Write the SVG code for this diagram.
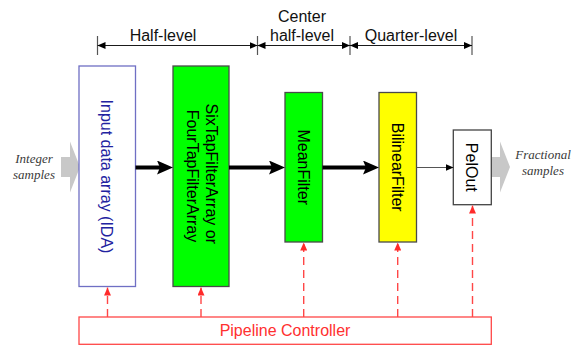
<svg xmlns="http://www.w3.org/2000/svg" width="579" height="347" viewBox="0 0 579 347">
  <style>
    .sans { font-family: "Liberation Sans", Arial, sans-serif; font-size: 16px; }
    .serif-it { font-family: "Liberation Serif", "Times New Roman", serif; font-size: 13px; font-style: italic; fill: #3a3a3a; }
    .lbl { fill: #111; text-anchor: middle; }
    .dim { stroke: #1a1a1a; stroke-width: 1.2; fill: none; }
    .tick { stroke: #555; stroke-width: 1.2; }
    .box { stroke-width: 1.3; }
    .flow-thick { stroke: #000; stroke-width: 4; fill: none; }
    .flow-thin { stroke: #555; stroke-width: 1.2; fill: none; }
    .ctrl { stroke: #ff4747; stroke-width: 1.4; stroke-dasharray: 8 5; fill: none; }
    .block-arrow { fill: #c8c8c8; }
  </style>
  <defs>
    <marker id="dimHead" viewBox="0 0 8 7" refX="8" refY="3.5" markerWidth="8" markerHeight="7" markerUnits="userSpaceOnUse" orient="auto-start-reverse">
      <path d="M0,0 L8,3.5 L0,7 z" fill="#000"/>
    </marker>
    <marker id="bigHead" viewBox="0 0 16 14" refX="3" refY="7" markerWidth="16" markerHeight="14" markerUnits="userSpaceOnUse" orient="auto">
      <path d="M0,0 L16,7 L0,14 L3,7 z" fill="#000"/>
    </marker>
    <marker id="smallHead" viewBox="0 0 8 7" refX="7.5" refY="3.5" markerWidth="8" markerHeight="7" markerUnits="userSpaceOnUse" orient="auto">
      <path d="M0,0 L8,3.5 L0,7 z" fill="#000"/>
    </marker>
    <marker id="redHead" viewBox="0 0 8 7" refX="8" refY="3.5" markerWidth="8" markerHeight="7" markerUnits="userSpaceOnUse" orient="auto">
      <path d="M0,0 L8,3.5 L0,7 z" fill="#ff2a2a"/>
    </marker>
  </defs>

  <!-- level dimension bar -->
  <g id="levels">
    <line class="tick" x1="97.5" y1="36" x2="97.5" y2="55"/>
    <line class="tick" x1="257.5" y1="36" x2="257.5" y2="55"/>
    <line class="tick" x1="350" y1="36" x2="350" y2="55"/>
    <line class="tick" x1="472" y1="36" x2="472" y2="55"/>
    <line class="dim" x1="97.5" y1="45.5" x2="257.5" y2="45.5" marker-start="url(#dimHead)" marker-end="url(#dimHead)"/>
    <line class="dim" x1="257.5" y1="45.5" x2="350" y2="45.5" marker-start="url(#dimHead)" marker-end="url(#dimHead)"/>
    <line class="dim" x1="350" y1="45.5" x2="472" y2="45.5" marker-start="url(#dimHead)" marker-end="url(#dimHead)"/>
    <text class="sans lbl" x="163" y="41">Half-level</text>
    <text class="sans lbl" x="302" y="21.5">Center</text>
    <text class="sans lbl" x="302" y="41">half-level</text>
    <text class="sans lbl" x="411" y="41">Quarter-level</text>
  </g>

  <!-- input / output block arrows -->
  <g id="integer-samples">
    <path class="block-arrow" d="M61,157 L70,157 L70,141.5 L80,167 L70,192.5 L70,177 L61,177 z"/>
    <text class="serif-it" x="34" y="162.5" text-anchor="middle">Integer</text>
    <text class="serif-it" x="34" y="178.5" text-anchor="middle">samples</text>
  </g>
  <g id="fractional-samples">
    <path class="block-arrow" d="M491.5,157 L500,157 L500,141.5 L510,167 L500,192.5 L500,177 L491.5,177 z"/>
    <text class="serif-it" x="543" y="159" text-anchor="middle">Fractional</text>
    <text class="serif-it" x="543" y="175" text-anchor="middle">samples</text>
  </g>

  <!-- pipeline stages -->
  <g id="ida">
    <rect class="box" x="79" y="66" width="56.5" height="220.5" fill="#fff" stroke="#6f6fc4"/>
    <text class="sans" transform="translate(107,176.5) rotate(90)" x="0" y="6" text-anchor="middle" fill="#2222a0">Input data array (IDA)</text>
  </g>
  <g id="tap-filter">
    <rect class="box" x="173" y="66" width="56" height="220.5" fill="#00ff00" stroke="#4a4a4a"/>
    <text class="sans" transform="translate(201,176) rotate(90)" text-anchor="middle" fill="#000">
      <tspan x="0" y="-4.5">SixTapFilterArray or</tspan>
      <tspan x="0" y="14">FourTapFilterArray</tspan>
    </text>
  </g>
  <g id="mean-filter">
    <rect class="box" x="285" y="92.5" width="37.5" height="149.5" fill="#00ff00" stroke="#4a4a4a"/>
    <text class="sans" transform="translate(303.8,167.2) rotate(90)" x="0" y="5.8" text-anchor="middle" fill="#000">MeanFilter</text>
  </g>
  <g id="bilinear-filter">
    <rect class="box" x="379" y="92.5" width="37.5" height="149.5" fill="#ffff00" stroke="#4a4a4a"/>
    <text class="sans" transform="translate(397.8,167.2) rotate(90)" x="0" y="5.8" text-anchor="middle" fill="#000">BilinearFilter</text>
  </g>
  <g id="pel-out">
    <rect class="box" x="453.3" y="130" width="38" height="74.7" fill="#fff" stroke="#444"/>
    <text class="sans" transform="translate(472.3,167.3) rotate(90)" x="0" y="5.8" text-anchor="middle" fill="#000">PelOut</text>
  </g>
  <g id="pipeline-controller">
    <rect x="79" y="317" width="412.3" height="27.3" fill="#fff" stroke="#ff4747" stroke-width="1.3"/>
    <text class="sans" x="285" y="335.5" text-anchor="middle" fill="#ff3030">Pipeline Controller</text>
  </g>

  <!-- connectors -->
  <g id="connectors">
    <line class="flow-thick" x1="135.5" y1="167.5" x2="160" y2="167.5" marker-end="url(#bigHead)"/>
    <line class="flow-thick" x1="229" y1="167.5" x2="272" y2="167.5" marker-end="url(#bigHead)"/>
    <line class="flow-thick" x1="322.5" y1="167.5" x2="366" y2="167.5" marker-end="url(#bigHead)"/>
    <line class="flow-thin" x1="416.5" y1="167.5" x2="453" y2="167.5" marker-end="url(#smallHead)"/>

    <line class="ctrl" x1="107.5" y1="317" x2="107.5" y2="287.5" marker-end="url(#redHead)"/>
    <line class="ctrl" x1="201" y1="317" x2="201" y2="287.5" marker-end="url(#redHead)"/>
    <line class="ctrl" x1="303.7" y1="317" x2="303.7" y2="242.5" marker-end="url(#redHead)"/>
    <line class="ctrl" x1="397.7" y1="317" x2="397.7" y2="242.5" marker-end="url(#redHead)"/>
    <line class="ctrl" x1="472.5" y1="317" x2="472.5" y2="205.5" marker-end="url(#redHead)"/>
  </g>
</svg>
